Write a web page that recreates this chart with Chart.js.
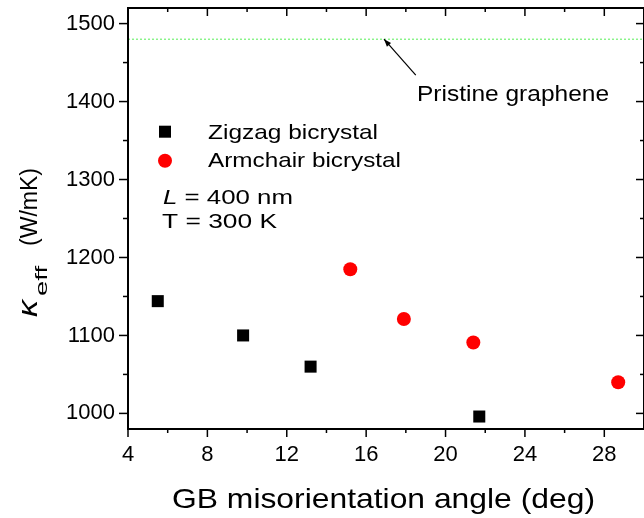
<!DOCTYPE html>
<html>
<head>
<meta charset="utf-8">
<script src="https://cdn.jsdelivr.net/npm/chart.js@4/dist/chart.umd.min.js"></script>
<style>
  html, body { margin: 0; padding: 0; background: #fff; }
</style>
</head>
<body>
<canvas id="grafico" width="644" height="518"></canvas>
<script>
// datos
var zigzagAngle = [5.5, 9.8, 13.2, 21.7];
var zigzagKappa = [1144, 1100, 1060, 996];
var armchairAngle = [15.2, 17.9, 21.4, 28.7];
var armchairKappa = [1185, 1121, 1091, 1040];
var pristineKappa = 1480;
var xRange = [4, 30];
var yRange = [980, 1520];
var xTicks = [4, 8, 12, 16, 20, 24, 28];
var yTicks = [1000, 1100, 1200, 1300, 1400, 1500];
var xMinor = [6, 10, 14, 18, 22, 26];
var yMinor = [1050, 1150, 1250, 1350, 1450];

var FONT = '"Liberation Sans", Arial, sans-serif';

function toPoints(xs, ys) {
  return xs.map(function (v, i) { return { x: v, y: ys[i] }; });
}

// texto estirado para ocupar el ancho que tiene en la figura
function fitText(ctx, text, x, y, font, width) {
  ctx.save();
  ctx.font = font;
  var w = ctx.measureText(text).width;
  ctx.translate(x, y);
  ctx.scale(width / w, 1);
  ctx.fillText(text, 0, 0);
  ctx.restore();
}

function line(ctx, x1, y1, x2, y2) {
  ctx.beginPath();
  ctx.moveTo(x1, y1);
  ctx.lineTo(x2, y2);
  ctx.stroke();
}

var extras = {
  id: 'extras',
  afterDraw: function (chart) {
    var ctx = chart.ctx;
    var a = chart.chartArea;
    var sx = chart.scales.x, sy = chart.scales.y;
    ctx.save();
    ctx.strokeStyle = '#000';
    ctx.fillStyle = '#000';

    // marco
    ctx.lineWidth = 2;
    ctx.strokeRect(a.left, a.top, a.right - a.left, a.bottom - a.top);

    // marcas de los ejes
    ctx.lineWidth = 1.5;
    xTicks.forEach(function (v) {
      var p = sx.getPixelForValue(v);
      line(ctx, p, a.bottom, p, a.bottom + 8);
      line(ctx, p, a.top, p, a.top + 8);
    });
    xMinor.forEach(function (v) {
      var p = sx.getPixelForValue(v);
      line(ctx, p, a.bottom, p, a.bottom + 4);
      line(ctx, p, a.top, p, a.top + 4);
    });
    yTicks.forEach(function (v) {
      var p = sy.getPixelForValue(v);
      line(ctx, a.left - 9, p, a.left, p);
      line(ctx, a.right - 8, p, a.right, p);
    });
    yMinor.forEach(function (v) {
      var p = sy.getPixelForValue(v);
      line(ctx, a.left - 5, p, a.left, p);
      line(ctx, a.right - 4, p, a.right, p);
    });

    // leyenda
    ctx.fillRect(159, 125.7, 12, 12);
    ctx.fillStyle = '#ff0000';
    ctx.beginPath();
    ctx.arc(165, 160.7, 7, 0, Math.PI * 2);
    ctx.fill();
    ctx.fillStyle = '#000';
    ctx.textBaseline = 'alphabetic';
    fitText(ctx, 'Zigzag bicrystal', 208, 138.5, '21px ' + FONT, 170);
    fitText(ctx, 'Armchair bicrystal', 208, 167, '21px ' + FONT, 193);

    // L = 400 nm  /  T = 300 K
    ctx.save();
    ctx.font = '21px ' + FONT;
    var wRest = ctx.measureText(' = 400 nm').width;
    ctx.font = 'italic 21px ' + FONT;
    var wL = ctx.measureText('L').width;
    var k = 130 / (wL + wRest);
    ctx.translate(163, 204);
    ctx.scale(k, 1);
    ctx.fillText('L', 0, 0);
    ctx.font = '21px ' + FONT;
    ctx.fillText(' = 400 nm', wL, 0);
    ctx.restore();
    fitText(ctx, 'T = 300 K', 162, 227.5, '21px ' + FONT, 115);

    // flecha y texto del grafeno pristino
    var tx = sx.getPixelForValue(18.5), ty = sy.getPixelForValue(1434);
    var hx = sx.getPixelForValue(16.9), hy = sy.getPixelForValue(1480);
    ctx.lineWidth = 1.2;
    line(ctx, tx, ty, hx, hy);
    var ang = Math.atan2(hy - ty, hx - tx);
    ctx.beginPath();
    ctx.moveTo(hx, hy);
    ctx.lineTo(hx - 8 * Math.cos(ang - 0.35), hy - 8 * Math.sin(ang - 0.35));
    ctx.lineTo(hx - 8 * Math.cos(ang + 0.35), hy - 8 * Math.sin(ang + 0.35));
    ctx.closePath();
    ctx.fill();
    fitText(ctx, 'Pristine graphene', 417, 101, '22px ' + FONT, 192);

    // titulo eje x
    fitText(ctx, 'GB misorientation angle (deg)', 172, 507.5, '28px ' + FONT, 423);

    // titulo eje y: kappa_eff (W/mK)
    ctx.save();
    ctx.translate(36.5, 317);
    ctx.rotate(-Math.PI / 2);
    fitText(ctx, '\u03ba', 0, 0, 'italic 27px ' + FONT, 17);
    fitText(ctx, 'eff', 21, 10, '17px ' + FONT, 30);
    fitText(ctx, '(W/mK)', 71, 0, '23px ' + FONT, 78);
    ctx.restore();

    ctx.restore();
  }
};

new Chart(document.getElementById('grafico'), {
  type: 'scatter',
  data: {
    datasets: [
      {
        label: 'Zigzag bicrystal',
        data: toPoints(zigzagAngle, zigzagKappa),
        pointStyle: 'rect',
        pointRadius: 8.5,
        backgroundColor: '#000',
        borderWidth: 0
      },
      {
        label: 'Armchair bicrystal',
        data: toPoints(armchairAngle, armchairKappa),
        pointStyle: 'circle',
        pointRadius: 7,
        backgroundColor: '#ff0000',
        borderWidth: 0
      },
      {
        type: 'line',
        label: 'Pristine graphene',
        data: toPoints(xRange, [pristineKappa, pristineKappa]),
        borderColor: '#55ee55',
        borderWidth: 1,
        borderDash: [2, 2],
        pointRadius: 0,
        fill: false
      }
    ]
  },
  options: {
    responsive: false,
    animation: false,
    layout: { autoPadding: false, padding: { top: 8, left: 0, right: 0, bottom: 0 } },
    plugins: {
      legend: { display: false },
      tooltip: { enabled: false }
    },
    scales: {
      x: {
        type: 'linear',
        min: xRange[0],
        max: xRange[1],
        afterBuildTicks: function (s) { s.ticks = xTicks.map(function (v) { return { value: v }; }); },
        afterFit: function (s) { s.height = 89; s.paddingLeft = 0; s.paddingRight = 0; },
        grid: { display: false, drawTicks: false },
        border: { display: false },
        ticks: { color: '#000', font: { family: FONT, size: 22 }, padding: 13, maxRotation: 0,
                 callback: function (v) { return String(v); } }
      },
      y: {
        type: 'linear',
        min: yRange[0],
        max: yRange[1],
        afterBuildTicks: function (s) { s.ticks = yTicks.map(function (v) { return { value: v }; }); },
        afterFit: function (s) { s.width = 128; s.paddingTop = 0; s.paddingBottom = 0; },
        grid: { display: false, drawTicks: false },
        border: { display: false },
        ticks: { color: '#000', font: { family: FONT, size: 22 }, padding: 13,
                 callback: function (v) { return String(v); } }
      }
    }
  },
  plugins: [extras]
});
</script>
</body>
</html>
